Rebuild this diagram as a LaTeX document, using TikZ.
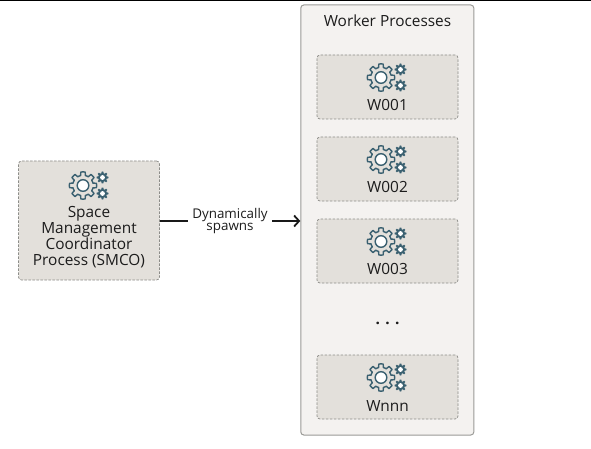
\documentclass[tikz,border=0pt]{standalone}
\usepackage{fontspec}
\setmainfont{Open Sans}
\usetikzlibrary{arrows.meta}
\definecolor{gearc}{HTML}{3A6070}
\definecolor{boxf}{HTML}{E3E0DB}
\definecolor{outerf}{HTML}{F4F2F0}
\definecolor{dashc}{HTML}{8C8C88}
\definecolor{outerc}{HTML}{9A9A96}
\definecolor{txt}{HTML}{1C1C1C}
\tikzset{
  x=1pt,y=-1pt,
  procbox/.style={draw=dashc,fill=boxf,dashed,dash pattern=on 2.5pt off 1.5pt,line width=0.7pt,rounded corners=3pt,minimum width=141pt,inner sep=0pt},
  wbox/.style={procbox,minimum height=64pt},
  outerbox/.style={draw=outerc,fill=outerf,line width=1pt,rounded corners=3pt,minimum width=173pt,minimum height=430pt,inner sep=0pt},
  lab/.style={font=\fontsize{15.4}{16}\selectfont,text=txt,align=center,inner sep=0pt},
  small/.style={font=\fontsize{13.4}{12.5}\selectfont,text=txt,align=center,inner ysep=0pt,inner xsep=4.5pt},
  flow/.style={draw=black!90,line width=1.8pt},
  pics/gearicon/.style={code={
    \draw[gearc,line width=1.4pt,fill=boxf,line join=round]
      plot[samples=161,domain=0:360] (\x:{10.2+3.4*min(1,max(0,0.5+2.2*cos(8*\x)))}) -- cycle;
    \draw[gearc,line width=1.4pt,fill=white] (0,0) circle[radius=5.8];
    \foreach \yy in {-8,8}{
      \begin{scope}[shift={(19.5,\yy)}]
      \fill[gearc] plot[samples=97,domain=0:360] (\x:{4.3+1.7*min(1,max(0,0.5+2.2*cos(8*\x)))}) -- cycle;
      \fill[white] (0,0) circle[radius=2.4];
      \end{scope}
    }
  }},
}
\begin{document}
\begin{tikzpicture}
\useasboundingbox (0,0) rectangle (591,449);
\fill[black] (0,0) rectangle (591,1.2);
\node[outerbox] (workers) at (387.3,220) {};
\node[lab] (wtitle) at (387.5,21) {Worker Processes};

\node[procbox,minimum height=119pt] (smco) at (89,220.5) {};
\pic at (83,185.5) {gearicon};
\node[lab] (smcot) at (89,236.8) {Space\\Management\\Coordinator\\Process (SMCO)};

\node[wbox] (w1) at (387.5,87) {};
\pic at (381,77.5) {gearicon};
\node[lab] (w1t) at (387.5,105) {W001};

\node[wbox] (w2) at (387.5,169) {};
\pic at (381,159.5) {gearicon};
\node[lab] (w2t) at (387.5,187) {W002};

\node[wbox] (w3) at (387.5,251) {};
\pic at (381,241.5) {gearicon};
\node[lab] (w3t) at (387.5,269) {W003};

\node[lab,font=\fontsize{15.4}{16}\selectfont\bfseries] (dots) at (387.5,323) {. . .};

\node[wbox] (wn) at (387.5,387) {};
\pic at (381,377.5) {gearicon};
\node[lab] (wnt) at (387.5,405.5) {Wnnn};

\node[small] (spawn) at (230,221) {Dynamically\\spawns};
\draw[flow] (smco.east |- spawn) -- (spawn.west);
\draw[flow,-{Straight Barb[length=5pt,width=11pt]}] (spawn.east) -- (workers.west |- spawn);
\end{tikzpicture}
\end{document}
